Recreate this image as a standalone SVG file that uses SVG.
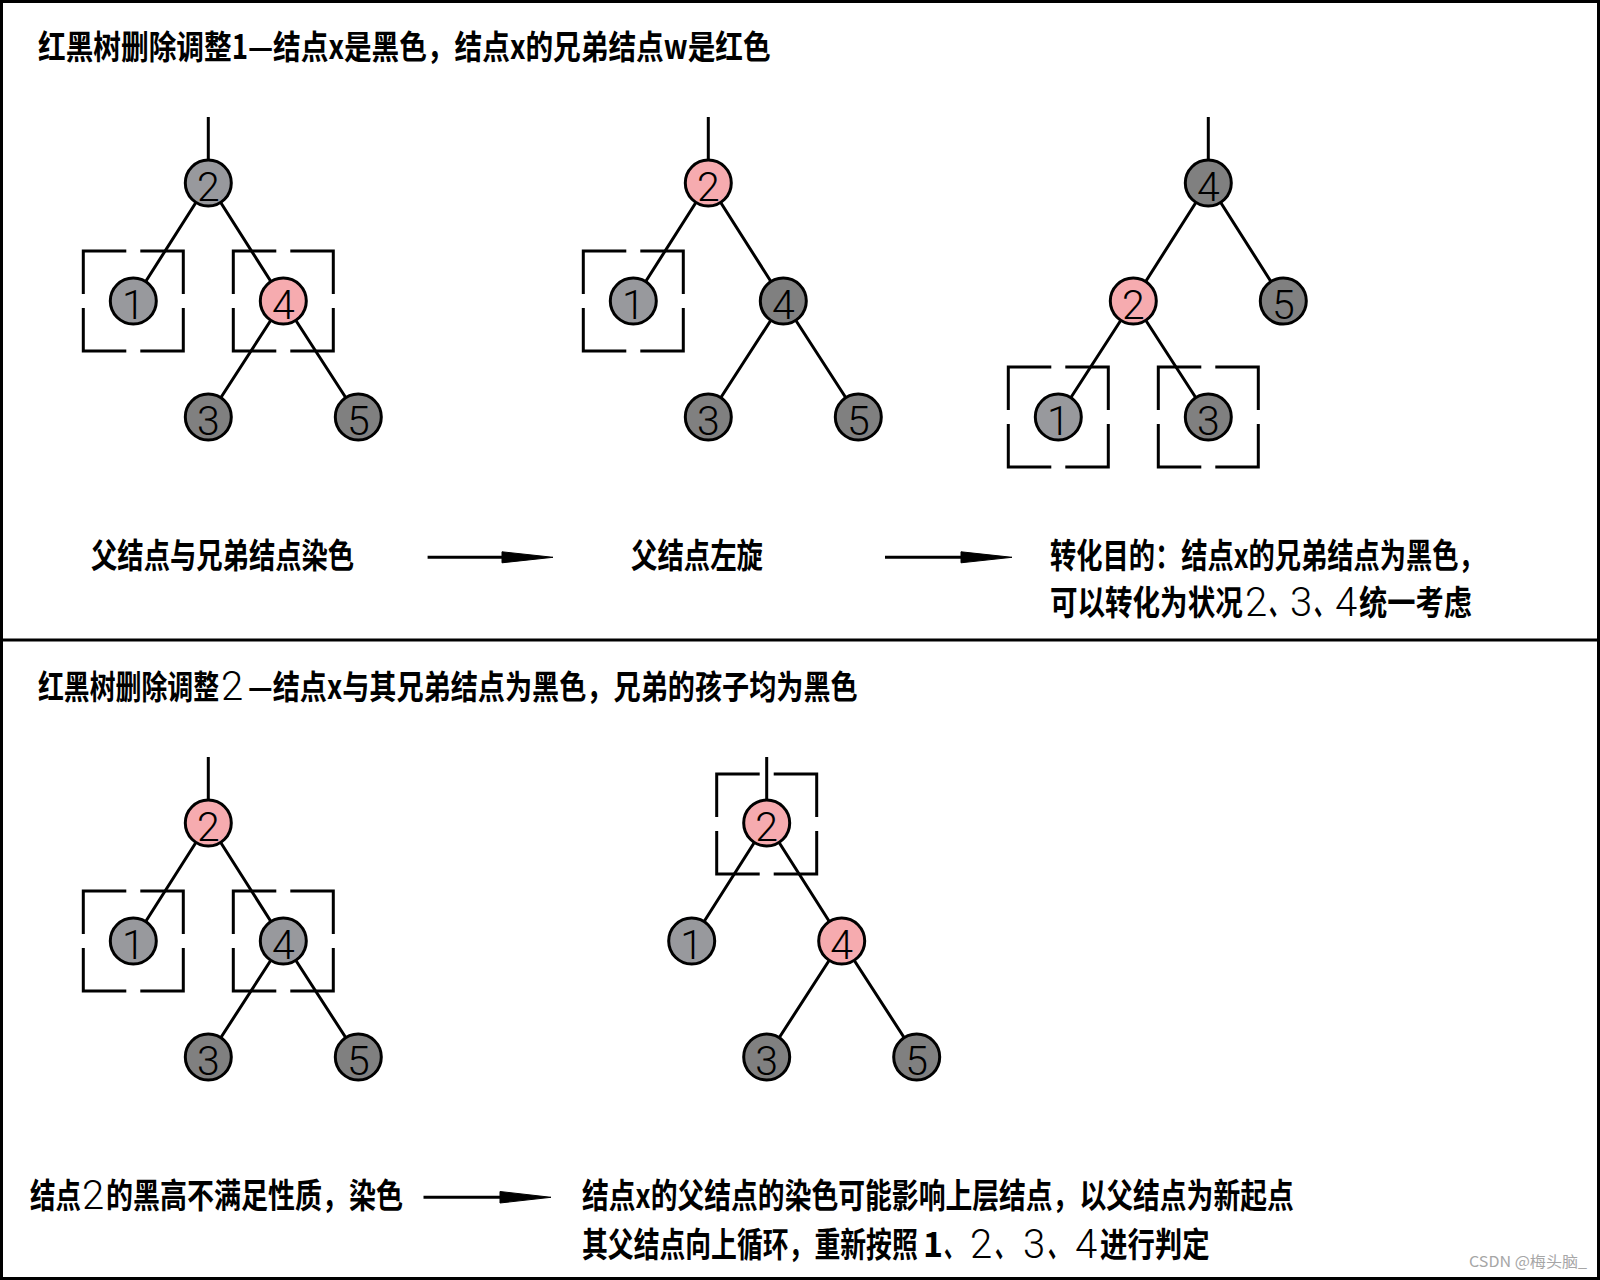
<svg xmlns="http://www.w3.org/2000/svg" width="1600" height="1280" viewBox="0 0 1600 1280">
<style>
.frame{fill:none;stroke:#000;stroke-width:3}
.edge{stroke:#000;stroke-width:3;fill:none}
.box{fill:none;stroke:#000;stroke-width:3}
.head{fill:#000;stroke:#000;stroke-width:1}
.nd{stroke:#000;stroke-width:3}
.lg{fill:#98999d}
.dg{fill:#808080}
.pk{fill:#f6abaf}
.num{font-family:Roboto,"DejaVu Sans",sans-serif;font-weight:300;font-size:41px;text-anchor:middle;fill:#000}
.cap{font-family:"Noto Sans CJK SC","Noto Sans CJK JP",sans-serif;font-weight:700;fill:#000}
.t1{font-size:33px}
.t2{font-size:34px}
.thin{font-family:Roboto,"DejaVu Sans",sans-serif;font-weight:300;font-size:40px;text-anchor:middle;fill:#000}
.wm{font-family:"Noto Sans CJK SC",sans-serif;font-size:15px;fill:#a6a6a6}
</style>
<rect class="frame" x="1.5" y="1.5" width="1597" height="1277"/>
<line class="frame" x1="0" y1="640" x2="1600" y2="640"/>

<g id="connectors">
  <path class="edge" d="M208.3,117V159 M208.3,183L133.3,301 M208.3,183L283.3,301 M283.3,301L208.3,417 M283.3,301L358.3,417"/>
  <path class="edge" d="M708.3,117V159 M708.3,183L633.3,301 M708.3,183L783.3,301 M783.3,301L708.3,417 M783.3,301L858.3,417"/>
  <path class="edge" d="M1208.3,117V159 M1208.3,183L1133.3,301 M1208.3,183L1283.3,301 M1133.3,301L1058.3,417 M1133.3,301L1208.3,417"/>
  <path class="edge" d="M208.3,757V799 M208.3,823L133.3,941 M208.3,823L283.3,941 M283.3,941L208.3,1057 M283.3,941L358.3,1057"/>
  <path class="edge" d="M766.7,757V799 M766.7,823L691.7,941 M766.7,823L841.7,941 M841.7,941L766.7,1057 M841.7,941L916.7,1057"/>
  <line class="edge" x1="427.6" y1="557.3" x2="505" y2="557.3"/>
  <polygon class="head" points="502,551.8 553,557.3 502,562.8"/>
  <line class="edge" x1="885" y1="557.3" x2="964" y2="557.3"/>
  <polygon class="head" points="961,551.8 1012,557.3 961,562.8"/>
  <line class="edge" x1="423.5" y1="1197.3" x2="503" y2="1197.3"/>
  <polygon class="head" points="500,1191.5 551,1197.3 500,1203"/>
</g>

<g id="boxes">
  <path class="box" d="M126.3,251H83.3V294 M83.3,308V351H126.3 M140.3,351H183.3V308 M183.3,294V251H140.3"/>
  <path class="box" d="M276.3,251H233.3V294 M233.3,308V351H276.3 M290.3,351H333.3V308 M333.3,294V251H290.3"/>
  <path class="box" d="M626.3,251H583.3V294 M583.3,308V351H626.3 M640.3,351H683.3V308 M683.3,294V251H640.3"/>
  <path class="box" d="M1051.3,367H1008.3V410 M1008.3,424V467H1051.3 M1065.3,467H1108.3V424 M1108.3,410V367H1065.3"/>
  <path class="box" d="M1201.3,367H1158.3V410 M1158.3,424V467H1201.3 M1215.3,467H1258.3V424 M1258.3,410V367H1215.3"/>
  <path class="box" d="M126.3,891H83.3V934 M83.3,948V991H126.3 M140.3,991H183.3V948 M183.3,934V891H140.3"/>
  <path class="box" d="M276.3,891H233.3V934 M233.3,948V991H276.3 M290.3,991H333.3V948 M333.3,934V891H290.3"/>
  <path class="box" d="M759.7,774H716.7V817 M716.7,831V874H759.7 M773.7,874H816.7V831 M816.7,817V774H773.7"/>
</g>

<g id="A2"><circle class="nd lg" cx="208.3" cy="183" r="23"/><text class="num" x="208.3" y="201">2</text></g>
<g id="A1"><circle class="nd lg" cx="133.3" cy="301" r="23"/><text class="num" x="133.3" y="319">1</text></g>
<g id="A4"><circle class="nd pk" cx="283.3" cy="301" r="23"/><text class="num" x="283.3" y="319">4</text></g>
<g id="A3"><circle class="nd dg" cx="208.3" cy="417" r="23"/><text class="num" x="208.3" y="435">3</text></g>
<g id="A5"><circle class="nd dg" cx="358.3" cy="417" r="23"/><text class="num" x="358.3" y="435">5</text></g>
<g id="B2"><circle class="nd pk" cx="708.3" cy="183" r="23"/><text class="num" x="708.3" y="201">2</text></g>
<g id="B1"><circle class="nd lg" cx="633.3" cy="301" r="23"/><text class="num" x="633.3" y="319">1</text></g>
<g id="B4"><circle class="nd dg" cx="783.3" cy="301" r="23"/><text class="num" x="783.3" y="319">4</text></g>
<g id="B3"><circle class="nd dg" cx="708.3" cy="417" r="23"/><text class="num" x="708.3" y="435">3</text></g>
<g id="B5"><circle class="nd dg" cx="858.3" cy="417" r="23"/><text class="num" x="858.3" y="435">5</text></g>
<g id="C4"><circle class="nd dg" cx="1208.3" cy="183" r="23"/><text class="num" x="1208.3" y="201">4</text></g>
<g id="C2"><circle class="nd pk" cx="1133.3" cy="301" r="23"/><text class="num" x="1133.3" y="319">2</text></g>
<g id="C5"><circle class="nd dg" cx="1283.3" cy="301" r="23"/><text class="num" x="1283.3" y="319">5</text></g>
<g id="C1"><circle class="nd lg" cx="1058.3" cy="417" r="23"/><text class="num" x="1058.3" y="435">1</text></g>
<g id="C3"><circle class="nd dg" cx="1208.3" cy="417" r="23"/><text class="num" x="1208.3" y="435">3</text></g>
<g id="D2"><circle class="nd pk" cx="208.3" cy="823" r="23"/><text class="num" x="208.3" y="841">2</text></g>
<g id="D1"><circle class="nd lg" cx="133.3" cy="941" r="23"/><text class="num" x="133.3" y="959">1</text></g>
<g id="D4"><circle class="nd lg" cx="283.3" cy="941" r="23"/><text class="num" x="283.3" y="959">4</text></g>
<g id="D3"><circle class="nd dg" cx="208.3" cy="1057" r="23"/><text class="num" x="208.3" y="1075">3</text></g>
<g id="D5"><circle class="nd dg" cx="358.3" cy="1057" r="23"/><text class="num" x="358.3" y="1075">5</text></g>
<g id="E2"><circle class="nd pk" cx="766.7" cy="823" r="23"/><text class="num" x="766.7" y="841">2</text></g>
<g id="E1"><circle class="nd lg" cx="691.7" cy="941" r="23"/><text class="num" x="691.7" y="959">1</text></g>
<g id="E4"><circle class="nd pk" cx="841.7" cy="941" r="23"/><text class="num" x="841.7" y="959">4</text></g>
<g id="E3"><circle class="nd dg" cx="766.7" cy="1057" r="23"/><text class="num" x="766.7" y="1075">3</text></g>
<g id="E5"><circle class="nd dg" cx="916.7" cy="1057" r="23"/><text class="num" x="916.7" y="1075">5</text></g>

<g id="labels">
  <text class="cap t1" transform="translate(38,59) scale(0.845,1)" textLength="867" lengthAdjust="spacingAndGlyphs">红黑树删除调整1—结点x是黑色，结点x的兄弟结点w是红色</text>

  <text class="cap t2" transform="translate(91,568) scale(0.774,1)" textLength="340" lengthAdjust="spacingAndGlyphs">父结点与兄弟结点染色</text>
  <text class="cap t2" transform="translate(631,568) scale(0.776,1)" textLength="170" lengthAdjust="spacingAndGlyphs">父结点左旋</text>
  <text class="cap t2" transform="translate(1050,568) scale(0.775,1)" textLength="561" lengthAdjust="spacingAndGlyphs">转化目的：结点x的兄弟结点为黑色，</text>
  <text class="cap t2" transform="translate(1050,615) scale(0.82,1)" textLength="235" lengthAdjust="spacingAndGlyphs">可以转化为状况</text>
  <text class="thin" x="1256" y="616">2</text>
  <text class="cap t2" transform="translate(1269,615) scale(0.6,1)">、</text>
  <text class="thin" x="1301" y="616">3</text>
  <text class="cap t2" transform="translate(1314,615) scale(0.6,1)">、</text>
  <text class="thin" x="1346" y="616">4</text>
  <text class="cap t2" transform="translate(1359,615) scale(0.83,1)" textLength="136" lengthAdjust="spacingAndGlyphs">统一考虑</text>

  <text class="cap t1" transform="translate(38,699) scale(0.784,1)" textLength="231" lengthAdjust="spacingAndGlyphs">红黑树删除调整</text>
  <text class="thin" x="232" y="700">2</text>
  <text class="cap t1" transform="translate(248,699) scale(0.86,1)" textLength="709" lengthAdjust="spacingAndGlyphs">—结点x与其兄弟结点为黑色，兄弟的孩子均为黑色</text>

  <text class="cap t2" transform="translate(30,1208) scale(0.75,1)" textLength="68" lengthAdjust="spacingAndGlyphs">结点</text>
  <text class="thin" x="93" y="1209">2</text>
  <text class="cap t2" transform="translate(106,1208) scale(0.794,1)" textLength="374" lengthAdjust="spacingAndGlyphs">的黑高不满足性质，染色</text>
  <text class="cap t2" transform="translate(582,1208) scale(0.79,1)" textLength="901" lengthAdjust="spacingAndGlyphs">结点x的父结点的染色可能影响上层结点，以父结点为新起点</text>

  <text class="cap t2" transform="translate(582,1257) scale(0.77,1)" textLength="436" lengthAdjust="spacingAndGlyphs">其父结点向上循环，重新按照</text>
  <text class="cap t2" x="933" y="1257" text-anchor="middle">1</text>
  <text class="cap t2" transform="translate(944,1257) scale(0.6,1)">、</text>
  <text class="thin" x="981" y="1258">2</text>
  <text class="cap t2" transform="translate(995,1257) scale(0.6,1)">、</text>
  <text class="thin" x="1034" y="1258">3</text>
  <text class="cap t2" transform="translate(1048,1257) scale(0.6,1)">、</text>
  <text class="thin" x="1086" y="1258">4</text>
  <text class="cap t2" transform="translate(1100,1257) scale(0.794,1)" textLength="138" lengthAdjust="spacingAndGlyphs">进行判定</text>

  <text class="wm" x="1469" y="1267" textLength="118" lengthAdjust="spacingAndGlyphs">CSDN @梅头脑_</text>
</g>
</svg>
